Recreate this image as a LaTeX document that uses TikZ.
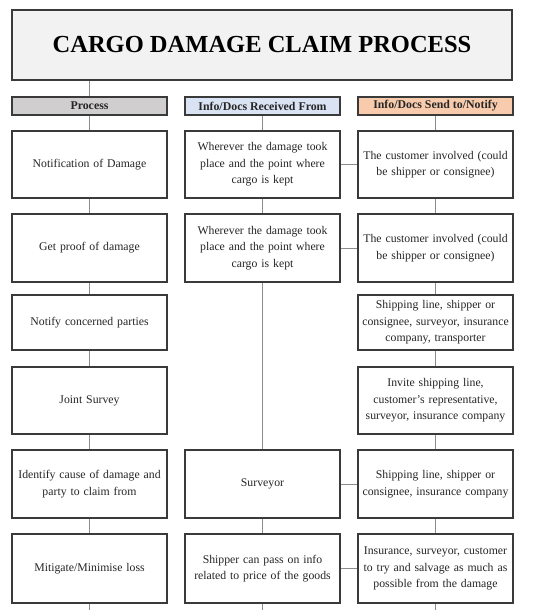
\documentclass[tikz,border=0pt]{standalone}
\usepackage{fontspec}
\setmainfont{Liberation Serif}
\definecolor{bordc}{HTML}{3A3A3A}
\definecolor{linec}{HTML}{8C8C8C}
\definecolor{titlef}{HTML}{F2F2F2}
\definecolor{procf}{HTML}{D0CECE}
\definecolor{recvf}{HTML}{DAE3F3}
\definecolor{sendf}{HTML}{F8CBAD}
\definecolor{textc}{HTML}{262626}
\begin{document}
\begin{tikzpicture}[x=1bp,y=-1bp,
  stepbox/.style={draw=bordc,line width=1.2bp,fill=white,rectangle,inner sep=0pt,
    minimum width=155bp,text width=152bp,align=center,text=textc,
    font=\fontsize{11.8}{16.6}\selectfont},
  headbox/.style={draw=bordc,line width=1.2bp,rectangle,inner sep=0pt,
    minimum width=155bp,minimum height=18bp,text=textc,
    font=\bfseries\fontsize{11.9}{13}\selectfont},
  conn/.style={draw=linec,line width=0.9bp}]
\useasboundingbox (0,0) rectangle (547,610);
\fill[white] (0,0) rectangle (547,610);
% title
\node[draw=bordc,line width=1.2bp,fill=titlef,minimum width=500bp,minimum height=70bp,inner sep=0pt,
  font=\bfseries\fontsize{24.6}{28}\selectfont] (title) at (262,45) {CARGO DAMAGE CLAIM PROCESS};
% headers
\node[headbox,fill=procf] (h1) at (89.5,106) {Process};
\node[headbox,fill=recvf] (h2) at (262.5,106) {Info/Docs Received From};
\node[headbox,fill=sendf] (h3) at (435.5,106) {Info/Docs Send to/Notify};
% left column
\node[stepbox,minimum height=67bp] (L1) at (89.5,164.5) {Notification of Damage};
\node[stepbox,minimum height=68bp] (L2) at (89.5,248) {Get proof of damage};
\node[stepbox,minimum height=55bp] (L3) at (89.5,322.5) {Notify concerned parties};
\node[stepbox,minimum height=67bp] (L4) at (89.5,400.5) {Joint Survey};
\node[stepbox,minimum height=68bp] (L5) at (89.5,484) {Identify cause of damage and\\party to claim from};
\node[stepbox,minimum height=69bp] (L6) at (89.5,568.5) {Mitigate/Minimise loss};
% middle column
\node[stepbox,minimum height=67bp] (M1) at (262.5,164.5) {Wherever the damage took\\place and the point where\\cargo is kept};
\node[stepbox,minimum height=68bp] (M2) at (262.5,248) {Wherever the damage took\\place and the point where\\cargo is kept};
\node[stepbox,minimum height=68bp] (M5) at (262.5,484) {Surveyor};
\node[stepbox,minimum height=69bp] (M6) at (262.5,568.5) {Shipper can pass on info\\related to price of the goods};
% right column
\node[stepbox,minimum height=67bp] (R1) at (435.5,164.5) {The customer involved (could\\be shipper or consignee)};
\node[stepbox,minimum height=68bp] (R2) at (435.5,248) {The customer involved (could\\be shipper or consignee)};
\node[stepbox,minimum height=55bp] (R3) at (435.5,322.5) {Shipping line, shipper or\\consignee, surveyor, insurance\\company, transporter};
\node[stepbox,minimum height=67bp] (R4) at (435.5,400.5) {Invite shipping line,\\customer's representative,\\surveyor, insurance company};
\node[stepbox,minimum height=68bp] (R5) at (435.5,484) {Shipping line, shipper or\\consignee, insurance company};
\node[stepbox,minimum height=69bp] (R6) at (435.5,568.5) {Insurance, surveyor, customer\\to try and salvage as much as\\possible from the damage};
% bottom ends
\coordinate (eL) at (89.5,610);
\coordinate (eM) at (262.5,610);
\coordinate (eR) at (435.5,610);
% connectors
\path[conn] (title.south -| h1.north) -- (h1.north);
\path[conn] (h1.south) -- (L1.north);
\path[conn] (L1.south) -- (L2.north);
\path[conn] (L2.south) -- (L3.north);
\path[conn] (L3.south) -- (L4.north);
\path[conn] (L4.south) -- (L5.north);
\path[conn] (L5.south) -- (L6.north);
\path[conn] (L6.south) -- (eL);
\path[conn] (h2.south) -- (M1.north);
\path[conn] (M1.south) -- (M2.north);
\path[conn] (M2.south) -- (M5.north);
\path[conn] (M5.south) -- (M6.north);
\path[conn] (M6.south) -- (eM);
\path[conn] (h3.south) -- (R1.north);
\path[conn] (R1.south) -- (R2.north);
\path[conn] (R2.south) -- (R3.north);
\path[conn] (R3.south) -- (R4.north);
\path[conn] (R4.south) -- (R5.north);
\path[conn] (R5.south) -- (R6.north);
\path[conn] (R6.south) -- (eR);
\path[conn] (M1.east) -- (R1.west);
\path[conn] (M2.east) -- (R2.west);
\path[conn] (M5.east) -- (R5.west);
\path[conn] (M6.east) -- (R6.west);
\end{tikzpicture}
\end{document}
